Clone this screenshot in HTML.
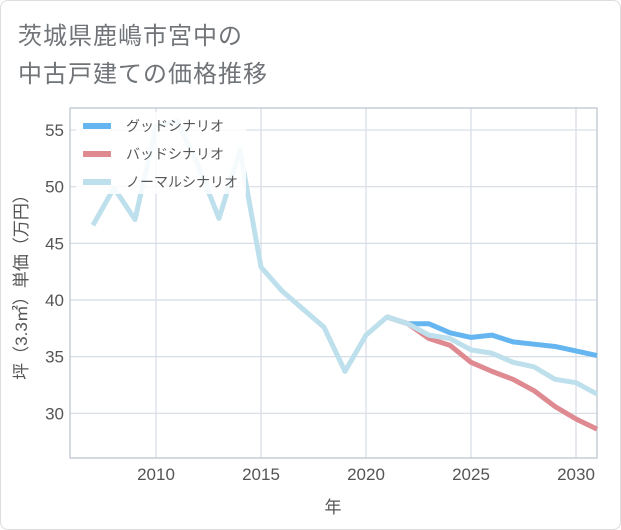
<!DOCTYPE html>
<html><head><meta charset="utf-8"><style>
body{margin:0;background:#fff;}
#card{position:absolute;left:0;top:0;width:619px;height:528px;border:1px solid #ddd;border-radius:8px;background:#fff;}
.t{position:absolute;left:18px;font:24px "Liberation Sans","Noto Sans CJK JP",sans-serif;color:#707478;letter-spacing:1px;}
svg{position:absolute;left:0;top:0;}
</style></head><body>
<div id="card"></div>
<div class="t" style="top:16px">茨城県鹿嶋市宮中の</div>
<div class="t" style="top:54px">中古戸建ての価格推移</div>
<svg id="c" width="621" height="530" font-family="'Liberation Sans','Noto Sans CJK JP',sans-serif"></svg>
<script>
const years=[2007,2008,2009,2010,2011,2012,2013,2014,2015,2016,2017,2018,2019,2020,2021,2022,2023,2024,2025,2026,2027,2028,2029,2030,2031];
const normal=[46.6,49.9,47.1,55.3,55.8,51.9,47.2,53.2,42.9,40.8,39.2,37.6,33.7,36.9,38.5,37.9,36.9,36.6,35.6,35.3,34.5,34.1,33.0,32.7,31.7];
const goodYears=[2021,2022,2023,2024,2025,2026,2027,2028,2029,2030,2031];
const good=[38.5,37.9,37.9,37.1,36.7,36.9,36.3,36.1,35.9,35.5,35.1];
const bad=[38.5,37.9,36.6,36.0,34.5,33.7,33.0,32.0,30.6,29.5,28.6];
const yTicks=[30,35,40,45,50,55];
const xTicks=[2010,2015,2020,2025,2030];
const L=70,R=597,T=108,B=458;
const X=y=>156+(y-2010)*21.0;
const Y=v=>300-(v-40)*11.33;
const svg=document.getElementById('c');const NS='http://www.w3.org/2000/svg';
function mk(t,a,p){const e=document.createElementNS(NS,t);for(const k in a)e.setAttribute(k,a[k]);(p||svg).appendChild(e);return e;}
yTicks.forEach(v=>{const l=mk('line',{x1:L,x2:R,y1:Y(v),y2:Y(v),stroke:'#d5dde6','stroke-width':1.2});

const t=mk('text',{x:L-6,y:Y(v)+6,'text-anchor':'end','font-size':17,fill:'#555'});t.textContent=v;
});
xTicks.forEach(v=>{const l=mk('line',{x1:X(v),x2:X(v),y1:T,y2:B,stroke:'#d5dde6','stroke-width':1.2});

const t=mk('text',{x:X(v),y:B+22,'text-anchor':'middle','font-size':17,fill:'#555'});t.textContent=v;
});
const ax=mk('rect',{x:L,y:T,width:R-L,height:B-T,fill:'none',stroke:'#b8c2cc','stroke-width':1.2});

function line(xs,vs,col,name){const p=mk('polyline',{points:xs.map((y,i)=>X(y)+','+Y(vs[i])).join(' '),fill:'none',stroke:col,'stroke-width':5,'stroke-linejoin':'round'});
}
line(goodYears,good,'#64b5f0','good-scenario-line');
line(goodYears,bad,'#de8a90','bad-scenario-line');
line(years,normal,'#bde0ec','normal-scenario-line');
const lb=mk('rect',{x:76,y:112,width:170,height:82,fill:'#fff','fill-opacity':0.85});

[['グッドシナリオ','#64b5f0'],['バッドシナリオ','#de8a90'],['ノーマルシナリオ','#bde0ec']].forEach((d,i)=>{
const g=mk('g',{});
mk('line',{x1:83,x2:111,y1:126+i*28,y2:126+i*28,stroke:d[1],'stroke-width':6},g);
const t=mk('text',{x:126,y:131+i*28,'font-size':14,fill:'#555'},g);t.textContent=d[0];});
const yt=mk('text',{transform:'translate(27,283) rotate(-90)','text-anchor':'middle','font-size':17,fill:'#555'});yt.textContent='坪（3.3㎡）単価（万円）';

const xt=mk('text',{x:333,y:513,'text-anchor':'middle','font-size':17,fill:'#555'});xt.textContent='年';

</script>
</body></html>
